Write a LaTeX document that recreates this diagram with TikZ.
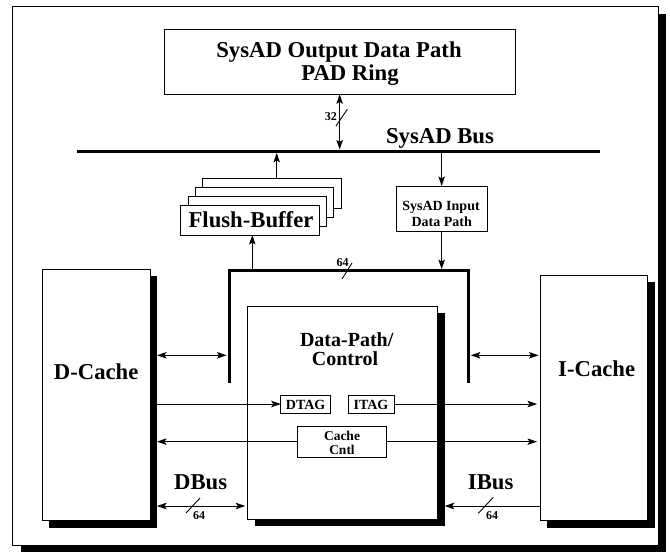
\documentclass[tikz,border=0pt]{standalone}
\usepackage{fontspec}
\setmainfont{Liberation Serif}
\usetikzlibrary{arrows.meta,calc}
\begin{document}
\begin{tikzpicture}[x=1pt,y=-1pt,
  box/.style={draw,fill=white,line width=0.9pt,inner sep=0pt,outer sep=0pt},
  shadowbox/.style={fill=black,draw=none,inner sep=0pt,outer sep=0pt},
  tip/.tip={Stealth[length=9.5pt,width=6.5pt,inset=2pt]},
  arr/.style={line width=0.9pt,-tip},
  dbl/.style={line width=0.9pt,tip-tip},
  heavy/.style={line width=3pt},
  big/.style={font=\fontsize{22.7}{24}\selectfont\bfseries,inner sep=0pt},
  dpfont/.style={font=\fontsize{20}{21}\selectfont\bfseries,inner sep=0pt},
  mid/.style={font=\fontsize{14}{16}\selectfont\bfseries,inner sep=0pt},
  small/.style={font=\fontsize{13.5}{15}\selectfont\bfseries,inner sep=0pt},
  tiny/.style={font=\fontsize{12}{14}\selectfont\bfseries,inner sep=0pt},
  slash/.style={line width=0.9pt}
]
\useasboundingbox (0,0) rectangle (670,552);
\fill[white] (0,0) rectangle (670,552);

% outer frame
\node[shadowbox,minimum width=645.6pt,minimum height=539pt] (frames) at (343.5,283.2) {};
\node[box,minimum width=645.6pt,minimum height=539pt] (frame) at (335.5,276.2) {};

% output box
\node[box,minimum width=350.7pt,minimum height=65pt] (outbox) at (339.65,61.8) {};
\node[big,anchor=base] (outt1) at (339,57.7) {SysAD Output Data Path};
\node[big,anchor=base] (outt2) at (350,80.7) {PAD Ring};

% SysAD bus
\coordinate (busL) at (77.3,151.3);
\coordinate (busR) at (600,151.3);
\draw[heavy] (busL) -- (busR);
\node[big,anchor=base] (buslabel) at (440,143.3) {SysAD Bus};

% 32 arrow
\coordinate (bus32) at (outbox.south |- busL);
\draw[dbl] (outbox.south) -- ($(bus32)+(0,-1.8)$);
\coordinate (s32a) at (336,126);
\coordinate (s32b) at (347.3,109.3);
\draw[slash] (s32a) -- (s32b);
\node[tiny,anchor=base] (l32) at (330.8,120.7) {32};

% flush buffers
\node[box,minimum width=138.6pt,minimum height=30pt] (fb4) at (271.9,193) {};
\node[box,minimum width=138.6pt,minimum height=30pt] (fb3) at (264.6,202) {};
\node[box,minimum width=138.6pt,minimum height=30pt] (fb2) at (257.3,211) {};
\node[box,minimum width=138.6pt,minimum height=30pt] (fb1) at (250,220) {};
\node[big,anchor=base] (fbt) at (251,227) {Flush-Buffer};
\coordinate (upx) at (276.7,151.3);
\draw[arr] (fb4.north -| upx) -- ($(upx)+(0,1.6)$);

% input box
\node[box,minimum width=91.3pt,minimum height=45.7pt] (inbox) at (441.65,208.85) {};
\node[mid,anchor=base] (int1) at (441,210) {SysAD Input};
\node[mid,anchor=base] (int2) at (441.7,226) {Data Path};
\draw[arr] (inbox.north |- busL) ++(0,1.6) -- (inbox.north);

% bracket (64 bus)
\coordinate (bl) at (229,383.3);
\coordinate (tl) at (229,270.7);
\coordinate (tr) at (468.3,270.7);
\coordinate (br) at (468.3,383.3);
\draw[heavy,line join=miter] (bl) -- (tl) -- (tr) -- (br);
\draw[arr] (inbox.south) -- ($(inbox.south |- tr)+(0,-1.6)$);
\coordinate (fbx) at (252.3,270.7);
\draw[arr] ($(fbx)+(0,-1.6)$) -- (fbx |- fb1.south);
\coordinate (s64a) at (342,279);
\coordinate (s64b) at (352,263);
\draw[slash] (s64a) -- (s64b);
\node[tiny,anchor=base] (l64t) at (342.5,266.5) {64};

% D-Cache
\node[shadowbox,minimum width=107.7pt,minimum height=251.4pt] (dcs) at (103.15,402) {};
\node[box,minimum width=107.7pt,minimum height=251.4pt] (dcache) at (96.15,395) {};
\node[big,anchor=base] (dct) at (96.2,379.3) {D-Cache};

% I-Cache
\node[shadowbox,minimum width=107.5pt,minimum height=245.7pt] (ics) at (600.75,404.85) {};
\node[box,minimum width=107.5pt,minimum height=245.7pt] (icache) at (593.75,397.85) {};
\node[big,anchor=base] (ict) at (596.7,376.7) {I-Cache};

% Data-path / control
\node[shadowbox,minimum width=190pt,minimum height=213.3pt] (dps) at (349.7,419.65) {};
\node[box,minimum width=190pt,minimum height=213.3pt] (dp) at (342.7,412.65) {};
\node[dpfont,anchor=base] (dpt1) at (346.7,346) {Data-Path/};
\node[dpfont,anchor=base] (dpt2) at (345,365) {Control};

% tag and control boxes
\node[box,minimum width=49.8pt,minimum height=18pt] (dtag) at (305.6,404) {};
\node[mid,anchor=base] (dtagt) at (305.6,409) {DTAG};
\node[box,minimum width=46pt,minimum height=18pt] (itag) at (371,404) {};
\node[mid,anchor=base] (itagt) at (371,409) {ITAG};
\node[box,minimum width=89.4pt,minimum height=31.3pt] (cache) at (342,441.65) {};
\node[small,anchor=base] (cachet1) at (342,440.5) {Cache};
\node[small,anchor=base] (cachet2) at (342,454.3) {Cntl};

% side double arrows
\coordinate (ly) at (0,355.3);
\draw[dbl] (dcs.east |- ly) -- ($(tl |- ly)+(-2.5,0)$);
\draw[dbl] ($(tr |- ly)+(2.5,0)$) -- ($(icache.west |- ly)+(-1.5,0)$);

% tag and control arrows
\draw[arr] (dcs.east |- dtag.west) -- (dtag.west);
\draw[arr] (itag.east) -- ($(icache.west |- itag.east)+(-3,0)$);
\draw[arr] (cache.west) -- (dcs.east |- cache.west);
\draw[arr] (cache.east) -- ($(icache.west |- cache.east)+(-3,0)$);

% DBus / IBus
\coordinate (by) at (0,506);
\draw[dbl] (dcs.east |- by) -- ($(dp.west |- by)+(-2.5,0)$);
\node[big,anchor=base] (dbust) at (200.7,489.3) {DBus};
\coordinate (sda) at (186,513);
\coordinate (sdb) at (200,498);
\draw[slash] (sda) -- (sdb);
\node[tiny,anchor=base] (l64d) at (199,519.3) {64};

\draw[arr] (icache.west |- by) -- (dps.east |- by);
\node[big,anchor=base] (ibust) at (490.7,489.3) {IBus};
\coordinate (sia) at (478.3,513.3);
\coordinate (sib) at (493.3,497.3);
\draw[slash] (sia) -- (sib);
\node[tiny,anchor=base] (l64i) at (492,519.3) {64};
\end{tikzpicture}
\end{document}
